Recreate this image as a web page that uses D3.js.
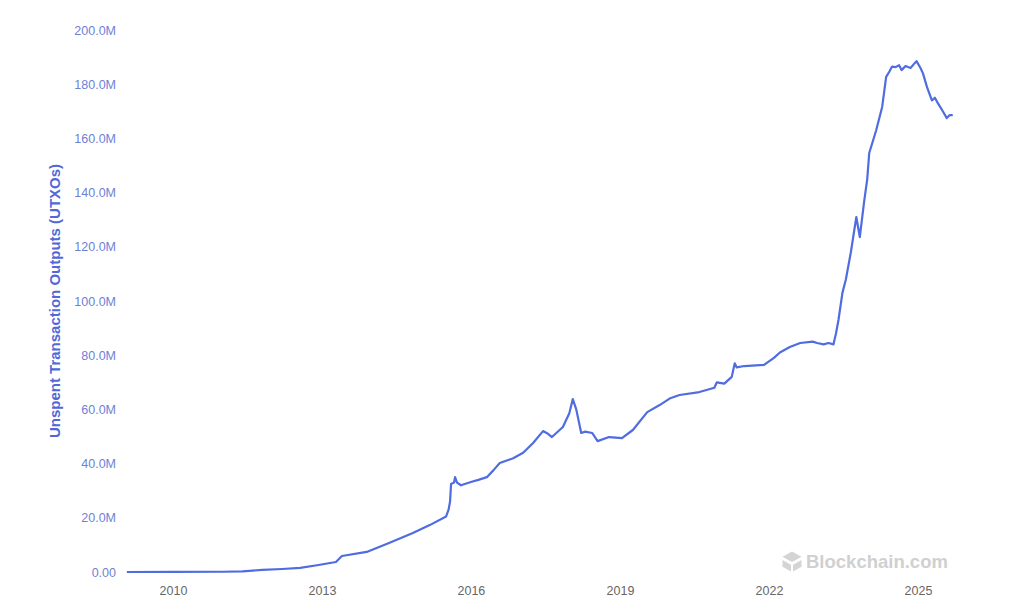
<!DOCTYPE html>
<html>
<head>
<meta charset="utf-8">
<script src="https://cdn.jsdelivr.net/npm/d3@7"></script>
<style>
  html, body { margin: 0; padding: 0; background: #ffffff; }
  svg { display: block; font-family: "Liberation Sans", Arial, Helvetica, sans-serif; }
</style>
</head>
<body>
<svg id="chart" width="1024" height="612"></svg>
<script>
// ---- data (decimal years, values in millions of UTXOs) ----
const years = [
  2009.07, 2010.0, 2011.0, 2011.4, 2011.8, 2012.2, 2012.56, 2012.9, 2013.28, 2013.4,
  2013.9, 2014.35, 2014.83, 2015.17, 2015.5, 2015.55, 2015.58, 2015.6, 2015.66, 2015.68,
  2015.72, 2015.8, 2016.0, 2016.15, 2016.32, 2016.45, 2016.58, 2016.85, 2017.05, 2017.25,
  2017.45, 2017.55, 2017.63, 2017.85, 2017.98, 2018.05, 2018.12, 2018.22, 2018.3, 2018.44,
  2018.55, 2018.78, 2019.04, 2019.26, 2019.55, 2019.8, 2020.0, 2020.2, 2020.6, 2020.9,
  2020.95, 2021.1, 2021.25, 2021.31, 2021.35, 2021.5, 2021.9, 2022.1, 2022.22, 2022.42,
  2022.63, 2022.88, 2022.97, 2023.1, 2023.2, 2023.3, 2023.35, 2023.4, 2023.48, 2023.55,
  2023.65, 2023.76, 2023.83, 2023.92, 2023.98, 2024.02, 2024.16, 2024.28, 2024.36, 2024.42,
  2024.48, 2024.55, 2024.62, 2024.67, 2024.75, 2024.85, 2024.92, 2024.97, 2025.05, 2025.1,
  2025.18, 2025.28, 2025.34, 2025.4, 2025.5, 2025.58, 2025.64, 2025.7
];
const utxos = [
  0, 0.02, 0.1, 0.2, 0.8, 1.1, 1.5, 2.5, 3.7, 5.9,
  7.4, 10.7, 14.4, 17.3, 20.5, 23, 26, 32.5, 33, 35,
  33, 32, 33.2, 34, 35, 37.5, 40.2, 42, 44, 47.6,
  52, 51, 49.8, 53.5, 58.6, 63.8, 60, 51.3, 51.8, 51.3,
  48.3, 49.8, 49.4, 52.4, 59, 61.6, 64, 65.3, 66.4, 68,
  70, 69.5, 72, 77, 75.5, 76, 76.4, 79, 81, 83,
  84.5, 85, 84.5, 84, 84.5, 84, 88, 93, 103, 108,
  118, 131, 123.6, 137, 145, 154.6, 163, 171.6, 182.7, 184.5,
  186.5, 186.3, 187, 185.2, 186.7, 186, 187.5, 188.5, 186, 184,
  179, 174, 175, 173, 170, 167.5, 168.6, 168.6
];
const xTickYears = [2010, 2013, 2016, 2019, 2022, 2025];
const yTicks = [0, 20, 40, 60, 80, 100, 120, 140, 160, 180, 200];
const yTitle = "Unspent Transaction Outputs (UTXOs)";
const watermark = "Blockchain.com";

// ---- helpers ----
function yearToDate(y) {
  const yr = Math.floor(y);
  const start = new Date(yr, 0, 1).getTime();
  const end = new Date(yr + 1, 0, 1).getTime();
  return new Date(start + (y - yr) * (end - start));
}
const data = years.map((y, i) => ({ date: yearToDate(y), value: utxos[i] }));

const svg = d3.select("#chart");

const x = d3.scaleTime()
  .domain([new Date(2010, 0, 1), new Date(2025, 0, 1)])
  .range([173, 918]);
const y = d3.scaleLinear()
  .domain([0, 200])
  .range([572, 30]);

// y axis labels
const yAxis = d3.axisLeft(y)
  .tickValues(yTicks)
  .tickSize(0)
  .tickPadding(0)
  .tickFormat(v => v === 0 ? "0.00" : v.toFixed(1) + "M");
const gy = svg.append("g").attr("transform", "translate(116,0)").call(yAxis);
gy.select(".domain").remove();
gy.selectAll("text")
  .attr("fill", "#6e7fd6")
  .style("font-size", "12.5px");

// x axis labels
const xAxis = d3.axisBottom(x)
  .tickValues(xTickYears.map(v => new Date(v, 0, 1)))
  .tickSize(0)
  .tickPadding(0)
  .tickFormat(d3.timeFormat("%Y"));
const gx = svg.append("g").attr("transform", "translate(0,586)").call(xAxis);
gx.select(".domain").remove();
gx.selectAll("text")
  .attr("fill", "#666666")
  .style("font-size", "12.5px");

// y title
svg.append("text")
  .attr("transform", "translate(60,301) rotate(-90)")
  .attr("text-anchor", "middle")
  .attr("fill", "#5068d8")
  .style("font-size", "15px")
  .style("font-weight", "bold")
  .text(yTitle);

// watermark
const wm = svg.append("g").attr("transform", "translate(792,561)").attr("fill", "#d4d4d4");
wm.append("path").attr("d", "M0,-9.5 L9.5,-4.2 L0,1 L-9.5,-4.2 Z");
wm.append("path").attr("d", "M-9.5,-1 L-1,3.7 L-1,10.5 L-9.5,5.8 Z");
wm.append("path").attr("d", "M9.5,-1 L1,3.7 L1,10.5 L9.5,5.8 Z");
svg.append("text")
  .attr("x", 806).attr("y", 568)
  .attr("fill", "#d0d0d0")
  .style("font-size", "18.5px")
  .style("font-weight", "bold")
  .text(watermark);

// line
const line = d3.line()
  .x(d => x(d.date))
  .y(d => y(d.value));
svg.append("path")
  .datum(data)
  .attr("fill", "none")
  .attr("stroke", "#4f6ce0")
  .attr("stroke-width", 2.2)
  .attr("stroke-linejoin", "round")
  .attr("d", line);
</script>
</body>
</html>
